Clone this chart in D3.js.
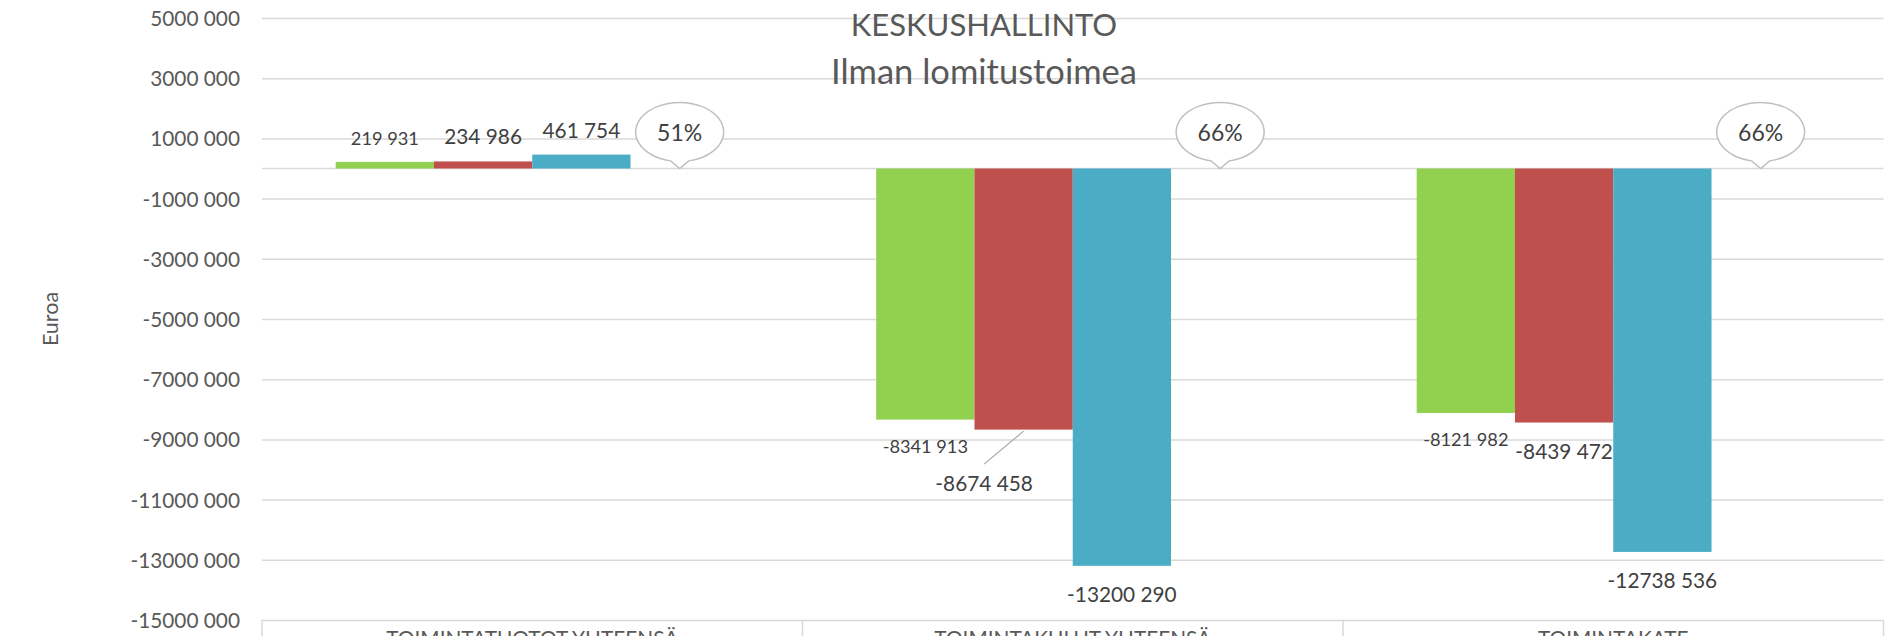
<!DOCTYPE html>
<html>
<head>
<meta charset="utf-8">
<script src="https://cdn.jsdelivr.net/npm/d3@7"></script>
<style>
  html, body { margin: 0; padding: 0; background: #fff; overflow: hidden; }
  svg { display: block; font-family: Lato, "Open Sans", sans-serif; }
</style>
</head>
<body>
<svg id="chart"></svg>
<script>
// =====================================================
// Data
// =====================================================
const categories  = ["TOIMINTATUOTOT YHTEENSÄ", "TOIMINTAKULUT YHTEENSÄ", "TOIMINTAKATE"];
const seriesNames = ["Sarja 1", "Sarja 2", "Sarja 3"];
const series1     = [219931, -8341913, -8121982];
const series2     = [234986, -8674458, -8439472];
const series3     = [461754, -13200290, -12738536];
const pctValues   = [0.51, 0.66, 0.66];
const yTicks      = [5000000, 3000000, 1000000, -1000000, -3000000, -5000000, -7000000,
                     -9000000, -11000000, -13000000, -15000000];
const titleLines  = ["KESKUSHALLINTO", "Ilman lomitustoimea"];
const yTitle      = "Euroa";

// =====================================================
// Setup
// =====================================================
const W = 1888, H = 636;
const colors     = ["#92d050", "#c0504d", "#4bacc6"];
const labelSizes = [18.2, 20.8, 20.8];   // first series labels are smaller
const titleSizes = [31, 34.5];
const plot = { left: 262, right: 1883.5, top: 18, bottom: 620 };

const svg = d3.select("#chart").attr("width", W).attr("height", H);

const allSeries = [series1, series2, series3];
const slots = [...seriesNames, "pct"];

/** category bands */
const x0 = d3.scaleBand()
  .domain(categories)
  .range([plot.left, plot.right])
  .padding(0);
/** bars inside a band, 4th slot holds the % callout */
const x1 = d3.scaleBand()
  .domain(slots)
  .range([0, x0.bandwidth()])
  .paddingInner(0)
  .paddingOuter(0.75);
const y = d3.scaleLinear()
  .domain([-15000000, 5000000])
  .range([plot.bottom, plot.top]);

/** "5000 000" style: thousands not grouped, last group split off */
const fmt = v => {
  const a = Math.abs(Math.round(v));
  const k = Math.floor(a / 1000), r = a % 1000;
  return (v < 0 ? "-" : "") + k + " " + String(r).padStart(3, "0");
};

// ----------
// Grid + Y axis
// =================
const yAxis = svg.append("g")
  .attr("transform", `translate(${plot.left},0)`)
  .call(d3.axisLeft(y)
    .tickValues(yTicks)
    .tickSize(-(plot.right - plot.left))
    .tickPadding(22)
    .tickFormat(fmt));
yAxis.select(".domain").remove();
yAxis.selectAll(".tick line").attr("stroke", "#d9d9d9").attr("stroke-width", 1.5);
yAxis.selectAll(".tick text")
  .attr("fill", "#595959")
  .attr("font-size", 20.8)
  .attr("font-family", "Lato")
  .attr("dy", "0.36em");

// zero line (category axis crossing)
svg.append("line")
  .attr("x1", plot.left).attr("x2", plot.right)
  .attr("y1", y(0)).attr("y2", y(0))
  .attr("stroke", "#d9d9d9").attr("stroke-width", 1.5);

// category label box at the bottom
const bounds = [...categories.map(c => x0(c)), plot.right];
svg.selectAll(".cat-sep")
  .data(bounds)
  .enter().append("line")
  .attr("x1", d => d).attr("x2", d => d)
  .attr("y1", plot.bottom).attr("y2", H + 20)
  .attr("stroke", "#d9d9d9").attr("stroke-width", 1.5);
svg.selectAll(".cat-label")
  .data(categories)
  .enter().append("text")
  .attr("x", d => x0(d) + x0.bandwidth() / 2)
  .attr("y", plot.bottom + 26)
  .attr("text-anchor", "middle")
  .attr("fill", "#595959")
  .attr("font-size", 20.8)
  .text(d => d);

// ----------
// Axis title
// =================
svg.append("text")
  .attr("transform", `translate(58, ${(plot.top + plot.bottom) / 2}) rotate(-90)`)
  .attr("text-anchor", "middle")
  .attr("fill", "#595959")
  .attr("font-size", 21.5)
  .text(yTitle);

// ----------
// Bars
// =================
const groups = svg.selectAll(".grp")
  .data(categories)
  .enter().append("g")
  .attr("transform", d => `translate(${x0(d)},0)`);

allSeries.forEach((vals, si) => {
  groups.append("rect")
    .attr("x", x1(seriesNames[si]))
    .attr("width", x1.bandwidth())
    .attr("y", (d, i) => y(Math.max(0, vals[i])))
    .attr("height", (d, i) => Math.abs(y(vals[i]) - y(0)))
    .attr("fill", colors[si]);
});

// ----------
// Data labels
// =================
const moved = { si: 1, ci: 1, dx: -39.5, dy: 25.4 }; // label dragged away in the original

allSeries.forEach((vals, si) => {
  const fs = labelSizes[si];
  groups.each(function(cat, ci) {
    const v  = vals[ci];
    const cx = x1(seriesNames[si]) + x1.bandwidth() / 2;
    let ly = v >= 0 ? y(v) - 17 : y(v) + 14.5 + fs * 1.04;
    let lx = cx;
    const g = d3.select(this);
    if (si === moved.si && ci === moved.ci) {
      lx += moved.dx; ly += moved.dy;
      g.append("line")
        .attr("x1", cx).attr("y1", y(v) + 1.5)
        .attr("x2", lx).attr("y2", ly - 27)
        .attr("stroke", "#a6a6a6").attr("stroke-width", 1.2);
    }
    g.append("text")
      .attr("x", lx).attr("y", ly)
      .attr("text-anchor", "middle")
      .attr("fill", "#404040")
      .attr("font-size", fs)
      .text(fmt(v));
  });
});

// ----------
// % callouts
// =================
const pctFmt = d3.format(".0%");
groups.each(function(cat, ci) {
  const g  = d3.select(this);
  const cx = x1("pct") + x1.bandwidth() / 2;
  const tipY = y(0);
  const cy = tipY - 36.5, rx = 44, ry = 29.5, hw = 9;
  const wy = cy + ry * Math.sqrt(1 - (hw * hw) / (rx * rx));
  const path = `M${cx + hw},${wy} A${rx},${ry} 0 1 0 ${cx - hw},${wy} L${cx},${tipY} Z`;
  g.append("path")
    .attr("d", path)
    .attr("fill", "#fff")
    .attr("stroke", "#bfbfbf")
    .attr("stroke-width", 1.5);
  g.append("text")
    .attr("x", cx).attr("y", tipY - 27.5)
    .attr("text-anchor", "middle")
    .attr("fill", "#404040")
    .attr("font-size", 23)
    .text(pctFmt(pctValues[ci]));
});

// ----------
// Title
// =================
svg.selectAll(".title")
  .data(titleLines)
  .enter().append("text")
  .attr("x", 984)
  .attr("y", (d, i) => 36 + i * 48)
  .attr("text-anchor", "middle")
  .attr("fill", "#595959")
  .attr("font-size", (d, i) => titleSizes[i])
  .text(d => d);
</script>
</body>
</html>
